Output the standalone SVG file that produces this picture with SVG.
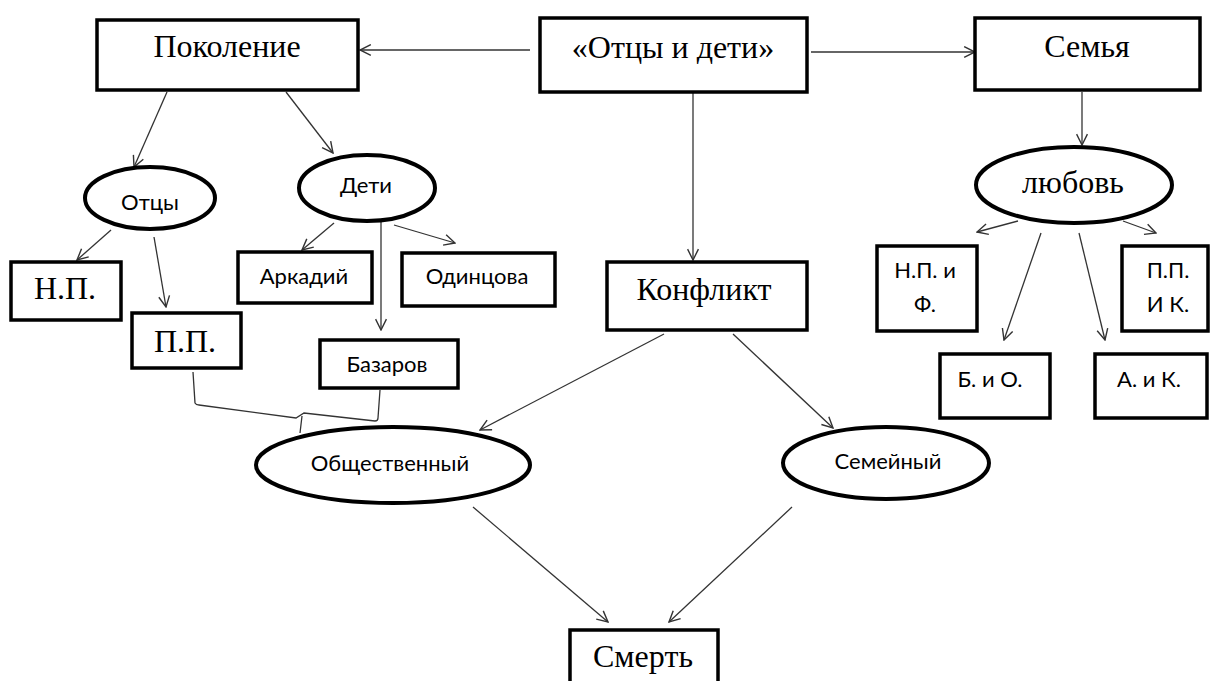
<svg xmlns="http://www.w3.org/2000/svg" width="1212" height="681" viewBox="0 0 1212 681">
<style>
.box{fill:#fff;stroke:#000;stroke-width:3.5}
.ell{fill:#fff;stroke:#000;stroke-width:4}
.con{fill:none;stroke:#333;stroke-width:1.3}
.serif{font-family:"Liberation Serif","Times New Roman",serif;font-size:32px;fill:#000;text-anchor:middle}
.sans{font-family:Lato,"Liberation Sans",sans-serif;font-size:22px;fill:#000;text-anchor:middle}
</style>
<defs>
<marker id="arr" viewBox="0 0 12 12" refX="11" refY="6" markerWidth="13" markerHeight="13" markerUnits="userSpaceOnUse" orient="auto">
<path d="M1,1 L11,6 L1,11" fill="none" stroke="#333" stroke-width="1.3"/>
</marker>
</defs>
<rect width="1212" height="681" fill="#fff"/>
<g id="connectors">
<path class="con" d="M530,50 L360,50" marker-end="url(#arr)"/>
<path class="con" d="M811,52 L975,52" marker-end="url(#arr)"/>
<path class="con" d="M693,92 L693,260" marker-end="url(#arr)"/>
<path class="con" d="M1082,92 L1082,145" marker-end="url(#arr)"/>
<path class="con" d="M167,92 L134,167" marker-end="url(#arr)"/>
<path class="con" d="M286,92 L333,153" marker-end="url(#arr)"/>
<path class="con" d="M111,230 L77,260" marker-end="url(#arr)"/>
<path class="con" d="M154,237 L166,307" marker-end="url(#arr)"/>
<path class="con" d="M334,223 L302,250" marker-end="url(#arr)"/>
<path class="con" d="M381,222 L381,330" marker-end="url(#arr)"/>
<path class="con" d="M394,225 L455,243" marker-end="url(#arr)"/>
<path class="con" d="M1018,221 L977,232" marker-end="url(#arr)"/>
<path class="con" d="M1123,221 L1156,233" marker-end="url(#arr)"/>
<path class="con" d="M1041,233 L1004,340" marker-end="url(#arr)"/>
<path class="con" d="M1079,233 L1105,340" marker-end="url(#arr)"/>
<path class="con" d="M664,334 L480,430" marker-end="url(#arr)"/>
<path class="con" d="M733,334 L833,428" marker-end="url(#arr)"/>
<path class="con" d="M473,507 L608,622" marker-end="url(#arr)"/>
<path class="con" d="M792,507 L669,622" marker-end="url(#arr)"/>
<path class="con" d="M193,372 L195,403 Q196,405 199,405 L296,418 L304,413 L375,421 Q378,421 378,418 L380,390 M300,433 L302,416"/>
</g>
<g id="pokolenie"><rect class="box" x="97" y="20" width="261" height="70"/><text class="serif" x="227" y="57">Поколение</text></g>
<g id="otcy-i-deti"><rect class="box" x="540" y="18" width="267" height="74"/><text class="serif" x="673" y="58">«Отцы и дети»</text></g>
<g id="semya"><rect class="box" x="975" y="18" width="225" height="72"/><text class="serif" x="1087" y="57">Семья</text></g>
<g id="otcy"><ellipse class="ell" cx="150" cy="198" rx="65" ry="31"/><text class="sans" x="150" y="210">Отцы</text></g>
<g id="deti"><ellipse class="ell" cx="367" cy="188" rx="68" ry="33"/><text class="sans" x="366" y="193">Дети</text></g>
<g id="lyubov"><ellipse class="ell" cx="1074" cy="185" rx="98" ry="38"/><text class="serif" x="1073" y="193">любовь</text></g>
<g id="np"><rect class="box" x="11" y="262" width="110" height="58"/><text class="serif" x="65" y="299">Н.П.</text></g>
<g id="pp"><rect class="box" x="132" y="313" width="109" height="55"/><text class="serif" x="185" y="352">П.П.</text></g>
<g id="arkadiy"><rect class="box" x="238" y="252" width="134" height="51"/><text class="sans" x="304" y="284">Аркадий</text></g>
<g id="odintsova"><rect class="box" x="402" y="253" width="153" height="53"/><text class="sans" x="477" y="284">Одинцова</text></g>
<g id="bazarov"><rect class="box" x="320" y="340" width="138" height="48"/><text class="sans" x="387" y="372">Базаров</text></g>
<g id="konflikt"><rect class="box" x="607" y="262" width="200" height="68"/><text class="serif" x="704" y="300">Конфликт</text></g>
<g id="np-f"><rect class="box" x="877" y="246" width="100" height="85"/><text class="sans" x="925" y="278">Н.П. и</text><text class="sans" x="925" y="312">Ф.</text></g>
<g id="pp-k"><rect class="box" x="1122" y="246" width="86" height="85"/><text class="sans" x="1168" y="278">П.П.</text><text class="sans" x="1168" y="312">И К.</text></g>
<g id="b-o"><rect class="box" x="940" y="354" width="110" height="64"/><text class="sans" x="990" y="387">Б. и О.</text></g>
<g id="a-k"><rect class="box" x="1095" y="354" width="112" height="64"/><text class="sans" x="1149" y="387">А. и К.</text></g>
<g id="obshchestvenny"><ellipse class="ell" cx="393" cy="465" rx="137" ry="38"/><text class="sans" x="390" y="471">Общественный</text></g>
<g id="semeyny"><ellipse class="ell" cx="886" cy="463" rx="103" ry="36"/><text class="sans" x="888" y="469">Семейный</text></g>
<g id="smert"><rect class="box" x="570" y="630" width="148" height="60"/><text class="serif" x="643" y="667">Смерть</text></g>
</svg>
